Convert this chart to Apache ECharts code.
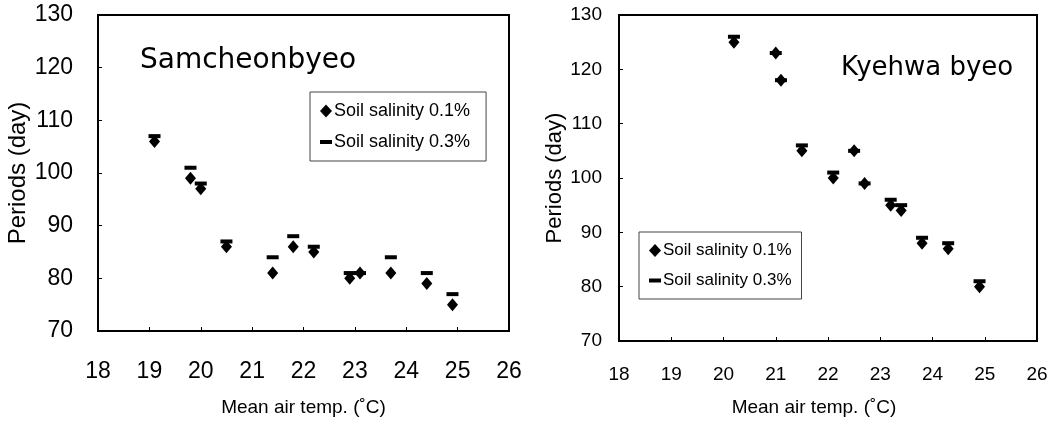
<!DOCTYPE html>
<html>
<head>
<meta charset="utf-8">
<script src="https://cdn.jsdelivr.net/npm/echarts@6/dist/echarts.min.js"></script>
<style>
html,body{margin:0;padding:0;background:#fff;}
#chart{width:1059px;height:428px;}
</style>
</head>
<body>
<div id="chart"></div>
<script>
// ---- data ----
const xTicks = [18, 19, 20, 21, 22, 23, 24, 25, 26];
const yTicks = [70, 80, 90, 100, 110, 120, 130];
const seriesNames = ['Soil salinity 0.1%', 'Soil salinity 0.3%'];

// Samcheonbyeo
const tempA   = [19.1, 19.8, 20.0, 20.5, 21.4, 21.8, 22.2, 22.9, 23.1, 23.7, 24.4, 24.9];
const sal01A  = [106, 99, 97, 86, 81, 86, 85, 80, 81, 81, 79, 75];
const sal03A  = [107, 101, 98, 87, 84, 88, 86, 81, 81, 84, 81, 77];

// Kyehwa byeo
const tempB   = [20.2, 21.0, 21.1, 21.5, 22.1, 22.5, 22.7, 23.2, 23.4, 23.8, 24.3, 24.9];
const sal01B  = [125, 123, 118, 105, 100, 105, 99, 95, 94, 88, 87, 80];
const sal03B  = [126, 123, 118, 106, 101, 105, 99, 96, 95, 89, 88, 81];

const pairs = (xs, ys) => xs.map((x, i) => [x, ys[i]]);

const SANS = "'Liberation Sans',Arial,sans-serif";
const WIDE = "'DejaVu Sans',sans-serif";

function xAxisCfg(gridIndex, wide) {
  return {
    gridIndex, type: 'value', min: 18, max: 26, interval: 1,
    name: 'Mean air temp. (\u02DAC)', nameLocation: 'middle',
    nameGap: wide ? 67 : 57,
    nameTextStyle: {fontFamily: SANS, fontSize: 19, color: '#000',
                    padding: wide ? [0, 0, 0, 0] : [0, 28, 0, 0]},
    axisLine: {show: true, lineStyle: {color: '#000', width: 2}},
    axisTick: {show: true, inside: true, length: 4, lineStyle: {color: '#000'}},
    axisLabel: {
      margin: wide ? 29 : 24, color: '#000',
      fontFamily: SANS, fontSize: wide ? 23 : 19,
      formatter: v => xTicks.includes(v) ? String(v) : ''
    },
    splitLine: {show: false}
  };
}
function yAxisCfg(gridIndex, wide) {
  return {
    gridIndex, type: 'value', min: 70, max: 130, interval: 10,
    name: 'Periods (day)', nameLocation: 'middle',
    nameGap: wide ? 66 : 46,
    nameTextStyle: {fontFamily: SANS, fontSize: wide ? 24 : 22, color: '#000'},
    axisLine: {show: true, lineStyle: {color: '#000', width: 2}},
    axisTick: {show: true, inside: true, length: 4, lineStyle: {color: '#000'}},
    axisLabel: {
      margin: wide ? 25 : 17, color: '#000',
      fontFamily: SANS, fontSize: wide ? 23 : 19,
      formatter: v => yTicks.includes(v) ? String(v) : ''
    },
    splitLine: {show: false}
  };
}
const diamond = {symbol: 'diamond', symbolSize: [11, 13], itemStyle: {color: '#000', opacity: 1}};
const dash = {symbol: 'rect', symbolSize: [12, 4], itemStyle: {color: '#000', opacity: 1}};
const dashIcon = 'path://M0,0L12,0L12,4L0,4Z';

function legendCfg(left, top, fontSize, padRight) {
  return {
    orient: 'vertical', left, top,
    padding: [10, padRight, 10, 10],
    itemGap: 13, itemWidth: 12, itemHeight: 13,
    borderColor: '#444', borderWidth: 1,
    textStyle: {fontFamily: SANS, fontSize, color: '#000', padding: [0, 0, 0, -3]},
    selectedMode: false,
    data: [
      {name: seriesNames[0], icon: 'diamond'},
      {name: seriesNames[1], icon: dashIcon}
    ]
  };
}

const chart = echarts.init(document.getElementById('chart'));
chart.setOption({
  animation: false,
  backgroundColor: '#fff',
  title: [
    {text: 'Samcheonbyeo', left: 135, top: 42,
     textStyle: {fontFamily: WIDE, fontWeight: 'normal', fontSize: 28, color: '#000'}},
    {text: 'Kyehwa byeo', left: 836, top: 50,
     textStyle: {fontFamily: WIDE, fontWeight: 'normal', fontSize: 26, color: '#000'}}
  ],
  legend: [legendCfg(310, 92, 18, 16), legendCfg(639, 232, 17, 10)],
  grid: [
    {left: 98, top: 15, width: 411, height: 316, show: true, borderColor: '#000', borderWidth: 2, backgroundColor: 'transparent'},
    {left: 619, top: 15, width: 418, height: 326, show: true, borderColor: '#000', borderWidth: 2, backgroundColor: 'transparent'}
  ],
  xAxis: [xAxisCfg(0, true), xAxisCfg(1, false)],
  yAxis: [yAxisCfg(0, true), yAxisCfg(1, false)],
  series: [
    Object.assign({type: 'scatter', name: seriesNames[0], xAxisIndex: 0, yAxisIndex: 0, data: pairs(tempA, sal01A)}, diamond),
    Object.assign({type: 'scatter', name: seriesNames[1], xAxisIndex: 0, yAxisIndex: 0, data: pairs(tempA, sal03A)}, dash),
    Object.assign({type: 'scatter', name: seriesNames[0], xAxisIndex: 1, yAxisIndex: 1, data: pairs(tempB, sal01B)}, diamond),
    Object.assign({type: 'scatter', name: seriesNames[1], xAxisIndex: 1, yAxisIndex: 1, data: pairs(tempB, sal03B)}, dash)
  ]
});
</script>
</body>
</html>
